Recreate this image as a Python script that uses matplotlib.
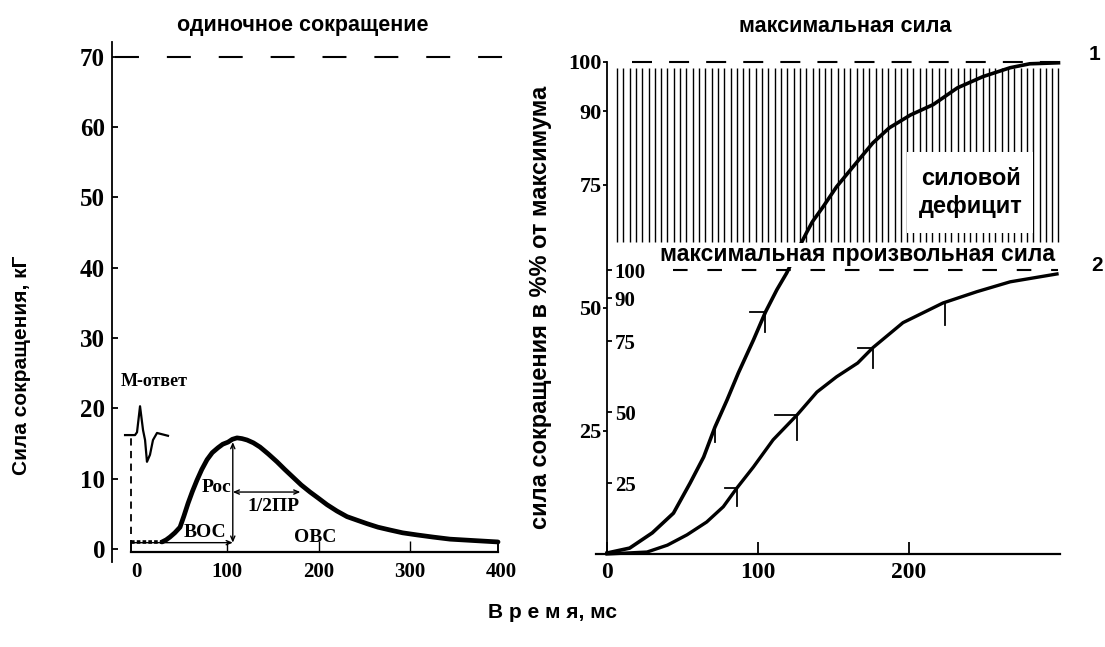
import numpy as np
import matplotlib
matplotlib.use("Agg")
import matplotlib.pyplot as plt
from matplotlib.patches import Rectangle

# ---------------- data: left panel (single twitch) ----------------
twitch_t = [28.5, 33.0, 37.2, 42.5, 48.2, 52.5, 57.0, 61.8, 66.8, 72.0, 77.8, 83.5, 89.8,
            95.0, 100.8, 105.5, 110.6, 116.0, 121.6, 128.5, 135.8, 145.0,
            154.4, 163.0, 172.0, 181.0, 190.6, 200.0, 209.2, 220.0, 231.1, 242.0, 253.0,
            265.0, 278.2, 292.0, 307.8, 325.0, 343.9, 370.0, 396.5]
twitch_f = [1.0, 1.3, 1.7, 2.3, 3.1, 4.7, 6.5, 8.2, 9.8, 11.3, 12.7, 13.7, 14.4,
            14.9, 15.2, 15.6, 15.8, 15.7, 15.5, 15.1, 14.5, 13.5,
            12.4, 11.3, 10.2, 9.1, 8.1, 7.2, 6.3, 5.4, 4.6, 4.1, 3.6,
            3.1, 2.7, 2.3, 2.0, 1.7, 1.4, 1.2, 1.0]
twitch_start_t = [-5.5, 28.5]
twitch_start_f = [1.0, 1.0]
mwave_t = [-12, -1.1, 1.1, 4.4, 7.7, 9.9, 12.0, 15.3, 18.6, 23.0, 35.0]
mwave_f = [16.2, 16.2, 16.6, 20.3, 16.9, 15.5, 12.4, 13.4, 15.5, 16.5, 16.1]
left_yticks = [0, 10, 20, 30, 40, 50, 60, 70]
left_xticks = [0, 100, 200, 300, 400]
left_inner_ticks = [100, 200, 300]
peak_time = 106
peak_force = 15.2
half_relax_time = 180
half_force = 8.1
left_max_line = 70

# ---------------- data: right panel (maximal force) ----------------
curve1_t = [0, 15, 30, 44, 55, 64, 71.5, 79.5, 87, 97, 105, 112.5, 119, 128, 132, 136,
            143, 152, 163, 176, 187, 201, 216, 232, 249, 267, 280, 299]
curve1_v = [0.2, 1.2, 4.3, 8.3, 14.4, 19.7, 25.8, 31.3, 36.8, 43.5, 49.2, 53.7, 57.1,
            62.8, 65.2, 67.5, 70.5, 74.6, 78.7, 83.5, 86.6, 89.2, 91.3, 94.7, 97.0,
            98.8, 99.6, 99.8]
curve2_t = [0, 26.5, 40, 53, 66, 77, 86, 97, 110, 126, 139, 152, 166, 176, 196,
            222.5, 245, 267, 298]
curve2_v = [0, 0.4, 1.8, 3.9, 6.5, 9.6, 13.4, 17.7, 23.2, 28.3, 32.9, 36.0, 38.8,
            41.9, 47.0, 51.0, 53.3, 55.3, 56.9]
c1_mark_t = [71.5, 104.6]
c1_mark_v = [25.8, 49.2]
c1_mark_h = [0, 10]
c1_mark_d = [3.0, 4.1]
c2_mark_t = [86, 126, 176, 224]
c2_mark_v = [13.4, 28.3, 41.9, 51.0]
c2_mark_h = [8, 15, 10, 0]
c2_mark_d = [3.6, 5.1, 4.1, 4.5]
right_main_yticks = [25, 50, 75, 90, 100]
right_sec_yticks = [25, 50, 75, 90, 100]
right_xticks = [0, 100, 200]
RATIO = 0.577  # secondary (voluntary) 100 % in units of the main scale

SANS = "Liberation Sans"
SERIF = "Liberation Serif"

fig = plt.figure(figsize=(11.05, 6.47), dpi=100)
W, H = 1105.0, 647.0


def fr(x0, y0, x1, y1):
    return [x0 / W, 1 - y1 / H, (x1 - x0) / W, (y1 - y0) / H]

# ================= LEFT PANEL =================
axL = fig.add_axes(fr(112, 42, 512, 562))
axL.set_xlim(-26.3, 411.8)
axL.set_ylim(-1.85, 72.1)
for s in ["top", "right", "bottom"]:
    axL.spines[s].set_visible(False)
axL.spines["left"].set_linewidth(1.3)
axL.set_yticks(left_yticks, labels=[str(v) for v in left_yticks],
               fontfamily=SERIF, fontweight="bold", fontsize=18)
axL.tick_params(axis="y", direction="in", length=4.3, width=1.3, pad=5)
axL.set_xticks(left_xticks, labels=[str(v) for v in left_xticks],
               fontfamily=SERIF, fontweight="bold", fontsize=15)
axL.tick_params(axis="x", length=0, pad=0)

# x-axis frame
axL.plot([-5.5, 397], [-0.4, -0.4], color="black", lw=1.6, clip_on=False)
axL.plot([-5.5, -5.5], [-0.4, 1.2], color="black", lw=1.4)
axL.plot([397, 397], [-0.4, 1.2], color="black", lw=1.4)
axL.vlines(left_inner_ticks, -0.4, 1.2, color="black", lw=1.0)

# twitch curve
axL.plot(twitch_start_t, twitch_start_f, color="black", lw=2.6, ls=(0, (1, 0.6)))
axL.plot(twitch_t, twitch_f, color="black", lw=3.4, solid_capstyle="round",
         solid_joinstyle="round")

# M-wave
axL.plot(mwave_t, mwave_f, color="black", lw=1.6)
axL.plot([-5.5, -5.5], [2.2, 15.8], color="black", lw=1.3, ls=(0, (4, 3)))
axL.text(-17, 23.8, "М-ответ", fontfamily=SERIF, fontweight="bold", fontsize=13,
         ha="left", va="center")

# dashed max line
axL.plot([-23, 411], [left_max_line] * 2, color="black", lw=1.5,
         ls=(0, (11.5, 13.4)), clip_on=False)

# annotations
arrow_kw = dict(arrowstyle="<->,head_length=0.35,head_width=0.15", lw=1.0, color="black",
                shrinkA=0, shrinkB=0)
axL.annotate("", xy=(peak_time, peak_force), xytext=(peak_time, 0.9), arrowprops=arrow_kw)
axL.annotate("", xy=(half_relax_time, half_force), xytext=(peak_time, half_force),
             arrowprops=arrow_kw)
axL.annotate("", xy=(peak_time, 0.9), xytext=(-5.5, 0.9),
             arrowprops=dict(arrowstyle="->,head_length=0.35,head_width=0.15", lw=1.0,
                             color="black", shrinkA=0, shrinkB=0))
txt_kw = dict(fontfamily=SERIF, fontweight="bold", fontsize=14, va="center")
axL.text(105, 8.7, "Рос", ha="right", **txt_kw)
axL.text(150, 6.0, "1/2ПР", ha="center", **txt_kw)
axL.text(76, 2.3, "ВОС", ha="center", **txt_kw)
axL.text(196, 1.6, "ОВС", ha="center", **txt_kw)

# ================= RIGHT PANEL =================
axR = fig.add_axes(fr(596, 50, 1060, 554))
axR.set_xlim(-7.3, 300)
axR.set_ylim(0, 102.4)
for s in ["top", "right"]:
    axR.spines[s].set_visible(False)
axR.spines["left"].set_position(("data", 0))
axR.spines["left"].set_bounds(0, 100)
axR.spines["left"].set_linewidth(1.3)
axR.spines["bottom"].set_linewidth(1.6)
axR.set_yticks(right_main_yticks, labels=[str(v) for v in right_main_yticks],
               fontfamily=SERIF, fontweight="bold", fontsize=16)
axR.tick_params(axis="y", direction="out", length=3, width=1.3, pad=1)
axR.set_xticks(right_xticks, labels=[str(v) for v in right_xticks],
               fontfamily=SERIF, fontweight="bold", fontsize=17)
axR.tick_params(axis="x", direction="in", length=8.6, width=1.3, pad=6)

sec = axR.secondary_yaxis(0, functions=(lambda v: v / RATIO, lambda s: s * RATIO),
                          transform=axR.transData)
sec.set_alignment("right")
sec.spines["right"].set_visible(False)
sec.spines["left"].set_visible(False)
sec.set_yticks(right_sec_yticks, labels=[str(v) for v in right_sec_yticks],
               fontfamily=SERIF, fontweight="bold", fontsize=15)
sec.tick_params(axis="y", direction="out", length=3.6, width=1.3, pad=2)

# hatch of force deficit
hatch_x = np.linspace(6.6, 299, 71)
axR.vlines(hatch_x, 63.4, 98.8, color="black", lw=1.0, zorder=1)
axR.add_patch(Rectangle((199, 65.2), 83, 16.5, facecolor="white", edgecolor="none", zorder=2))
axR.text(241, 73.4, "силовой\nдефицит", fontfamily=SANS, fontweight="bold", fontsize=17,
         ha="center", va="center", linespacing=1.25, zorder=3)

# dashed lines
axR.plot([16.6, 299], [100, 100], color="black", lw=1.5, ls=(0, (9.6, 8.2)), zorder=3)
axR.plot([43.7, 299], [100 * RATIO] * 2, color="black", lw=1.5, ls=(0, (7, 9.5)), zorder=3)

# curves
axR.plot(curve1_t, curve1_v, color="black", lw=2.6, zorder=4, clip_on=False)
axR.plot(curve2_t, curve2_v, color="black", lw=2.4, zorder=4, clip_on=False)
for t, v, h, d in zip(c1_mark_t, c1_mark_v, c1_mark_h, c1_mark_d):
    if h:
        axR.plot([t - h, t], [v, v], color="black", lw=1.3, zorder=4)
    axR.plot([t, t], [v, v - d], color="black", lw=1.3, zorder=4)
for t, v, h, d in zip(c2_mark_t, c2_mark_v, c2_mark_h, c2_mark_d):
    if h:
        axR.plot([t - h, t], [v, v], color="black", lw=1.3, zorder=4)
    axR.plot([t, t], [v, v - d], color="black", lw=1.3, zorder=4)

axR.text(165.6, 60.8, "максимальная произвольная сила", fontfamily=SANS,
         fontweight="bold", fontsize=16.5, ha="center", va="center", zorder=5,
         bbox=dict(facecolor="white", edgecolor="none", pad=0.5))

# ================= figure texts =================
fig.text(303 / W, 1 - 25 / H, "одиночное сокращение", fontfamily=SANS, fontweight="bold",
         fontsize=15.5, ha="center", va="center")
fig.text(845 / W, 1 - 27 / H, "максимальная сила", fontfamily=SANS, fontweight="bold",
         fontsize=15.5, ha="center", va="center")
fig.text(22 / W, 1 - 365 / H, "Сила сокращения, кГ", fontfamily=SANS, fontweight="bold",
         fontsize=15, rotation=90, ha="center", va="center")
fig.text(541 / W, 1 - 307 / H, "сила сокращения в %% от максимума", fontfamily=SANS,
         fontweight="bold", fontsize=17, rotation=90, ha="center", va="center")
fig.text(553 / W, 1 - 612 / H, "В р е м я, мс", fontfamily=SANS, fontweight="bold",
         fontsize=15, ha="center", va="center")
fig.text(1095 / W, 1 - 55 / H, "1", fontfamily=SANS, fontweight="bold", fontsize=15,
         ha="center", va="center")
fig.text(1097 / W, 1 - 266 / H, "2", fontfamily=SANS, fontweight="bold", fontsize=15,
         ha="center", va="center")

fig.savefig("out.png", dpi=100)
